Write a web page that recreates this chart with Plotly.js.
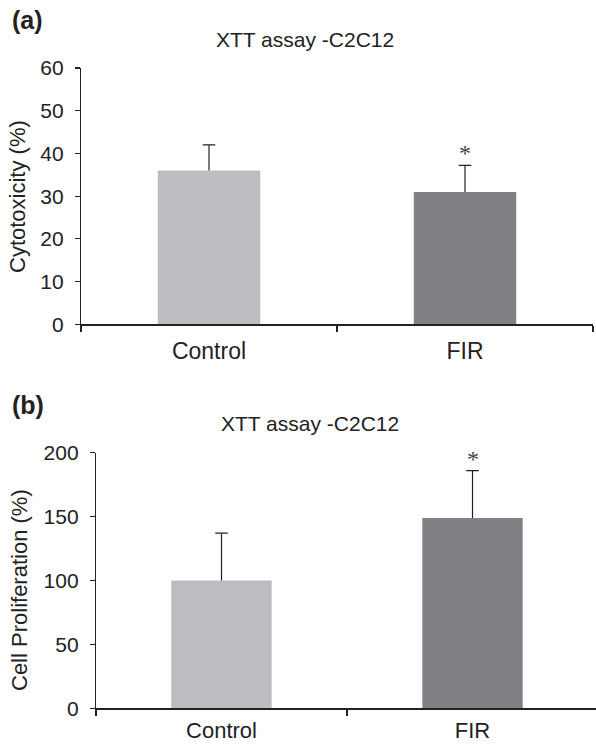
<!DOCTYPE html>
<html>
<head>
<meta charset="utf-8">
<script src="https://cdn.plot.ly/plotly-3.0.1.min.js"></script>
<style>html,body{margin:0;padding:0;background:#fff;}#chart{width:596px;height:746px;}</style>
</head>
<body>
<div id="chart"></div>
<script>
// Data
const categories = ["Control", "FIR"];
const cytotoxicity = [36, 31];
const cytotoxicityErr = [6, 6.2];
const proliferation = [100, 149];
const proliferationErr = [37, 37];
const significant = [false, true];
const titleA = "XTT assay -C2C12";
const titleB = "XTT assay -C2C12";
const yTitleA = "Cytotoxicity (%)";
const yTitleB = "Cell Proliferation (%)";
const ticksA = [0, 10, 20, 30, 40, 50, 60];
const ticksB = [0, 50, 100, 150, 200];

const W = 596, H = 746;
const colors = ["#bcbdc1", "#808185"];
const fontFam = "Liberation Sans, Arial, sans-serif";
const errColor = "#222";

function px(x) { return x / W; }
function py(y) { return (H - y) / H; }

function barTrace(vals, errs, xa, ya) {
  return {
    type: "bar", x: categories, y: vals, xaxis: xa, yaxis: ya,
    width: 0.4, marker: {color: colors, line: {width: 0}},
    error_y: {type: "data", symmetric: false, array: errs,
      arrayminus: vals.map(() => 0), color: errColor, thickness: 1.2, width: 0},
    hoverinfo: "none"
  };
}
function capTrace(vals, errs, xa, ya) {
  return {
    type: "scatter", mode: "markers", x: categories, y: vals.map((v, i) => v + errs[i]),
    xaxis: xa, yaxis: ya,
    marker: {symbol: "line-ew", size: 9, color: errColor, line: {color: errColor, width: 1.2}},
    hoverinfo: "none"
  };
}

const axisCommon = {
  showgrid: false, zeroline: false, showline: true, linecolor: "#222", linewidth: 1.2,
  ticks: "outside", ticklen: 6, tickcolor: "#222", tickwidth: 1.2,
  tickfont: {family: fontFam, size: 21, color: "#222"}, fixedrange: true
};

const annotations = [];
// star markers
categories.forEach((c, i) => {
  if (significant[i]) {
    annotations.push({xref: "x", yref: "y", x: c, y: cytotoxicity[i] + cytotoxicityErr[i],
      text: "*", showarrow: false, yanchor: "bottom", yshift: -3,
      font: {family: "Liberation Serif, serif", size: 24, color: "#444"}});
    annotations.push({xref: "x2", yref: "y2", x: c, y: proliferation[i] + proliferationErr[i],
      text: "*", showarrow: false, yanchor: "bottom", yshift: -3,
      font: {family: "Liberation Serif, serif", size: 24, color: "#444"}});
  }
});
// titles
annotations.push({xref: "paper", yref: "paper", x: px(305), y: py(39), text: titleA,
  showarrow: false, xanchor: "center", yanchor: "middle", font: {family: fontFam, size: 21, color: "#222"}});
annotations.push({xref: "paper", yref: "paper", x: px(310), y: py(423), text: titleB,
  showarrow: false, xanchor: "center", yanchor: "middle", font: {family: fontFam, size: 21, color: "#222"}});
// panel labels
annotations.push({xref: "paper", yref: "paper", x: px(10), y: py(20), text: "<b>(a)</b>",
  showarrow: false, xanchor: "left", yanchor: "middle", font: {family: fontFam, size: 25, color: "#222"}});
annotations.push({xref: "paper", yref: "paper", x: px(10), y: py(405), text: "<b>(b)</b>",
  showarrow: false, xanchor: "left", yanchor: "middle", font: {family: fontFam, size: 25, color: "#222"}});
// y titles
annotations.push({xref: "paper", yref: "paper", x: px(18), y: py(197), text: yTitleA, textangle: -90,
  showarrow: false, xanchor: "center", yanchor: "middle", font: {family: fontFam, size: 22, color: "#222"}});
annotations.push({xref: "paper", yref: "paper", x: px(19), y: py(590), text: yTitleB, textangle: -90,
  showarrow: false, xanchor: "center", yanchor: "middle", font: {family: fontFam, size: 22, color: "#222"}});

const layout = {
  width: W, height: H, margin: {l: 0, r: 0, t: 0, b: 0},
  paper_bgcolor: "#fff", plot_bgcolor: "#fff", showlegend: false,
  xaxis: Object.assign({}, axisCommon, {domain: [px(81), px(593)], anchor: "y",
    type: "category", range: [-0.5, 1.5], tickson: "boundaries", ticklabelstandoff: 6,
    tickfont: {family: fontFam, size: 23, color: "#222"}}),
  yaxis: Object.assign({}, axisCommon, {domain: [py(324.3), py(68)], anchor: "x",
    range: [0, 60], tickvals: ticksA, ticklen: 5, ticklabelstandoff: 7}),
  xaxis2: Object.assign({}, axisCommon, {domain: [px(96), 1], anchor: "y2",
    type: "category", range: [-0.5, 1.492], tickson: "boundaries", ticklabelstandoff: 2,
    tickfont: {family: fontFam, size: 22, color: "#222"}}),
  yaxis2: Object.assign({}, axisCommon, {domain: [py(708.3), py(452.7)], anchor: "x2",
    range: [0, 200], tickvals: ticksB, ticklen: 5, ticklabelstandoff: 7}),
  annotations: annotations
};

const traces = [
  barTrace(cytotoxicity, cytotoxicityErr, "x", "y"),
  capTrace(cytotoxicity, cytotoxicityErr, "x", "y"),
  barTrace(proliferation, proliferationErr, "x2", "y2"),
  capTrace(proliferation, proliferationErr, "x2", "y2")
];

Plotly.newPlot("chart", traces, layout, {displayModeBar: false, staticPlot: true});
</script>
</body>
</html>
